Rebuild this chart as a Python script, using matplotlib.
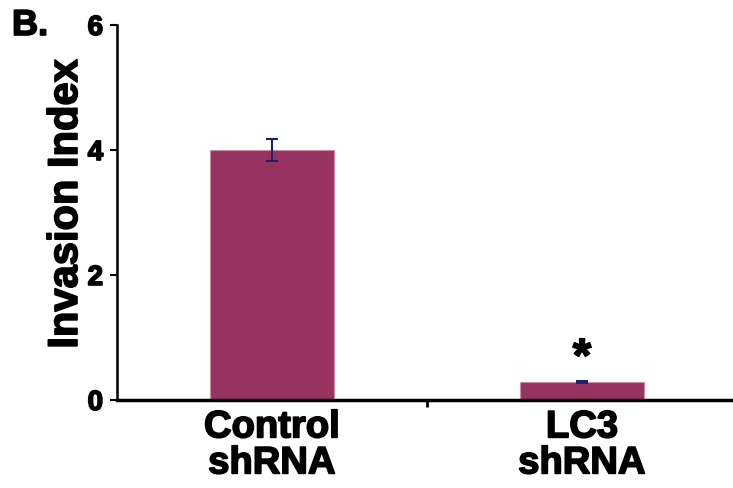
import numpy as np
import matplotlib
matplotlib.use('Agg')
from matplotlib import pyplot as plt
import matplotlib.patheffects as pe

groups = ['Control\nshRNA', 'LC3\nshRNA']
values = [4.0, 0.29]
errors = [0.18, 0.02]

plt.rcParams['font.family'] = ['Liberation Sans', 'DejaVu Sans']
plt.rcParams['font.weight'] = 'bold'

# heavier look, like the original figure font
heavy = [pe.withStroke(linewidth=1.2, foreground='black')]

fig = plt.figure(figsize=(7.33, 4.88), dpi=100)
ax = fig.add_axes([117/733, 88/488, 620/733, 375/488])

x = np.arange(len(groups))
ax.bar(x, values, width=0.4, color='#963360', edgecolor='#d48aab', linewidth=0.8, zorder=2)
ax.errorbar(x, values, yerr=errors, fmt='none', ecolor='#1c2470', elinewidth=1.5,
            capsize=4, capthick=1.5, zorder=3)
ax.text(x[1], values[1] + 0.17, '*', ha='center', va='baseline', fontsize=34,
        fontweight='bold', path_effects=heavy)

ax.set_xlim(-0.5, 1.5)
ax.set_ylim(0, 6)
ax.set_yticks([0, 2, 4, 6])
ax.set_xticks([0.5])
ax.set_xticklabels([''])
ax.tick_params(axis='x', length=5, width=2)
ax.tick_params(axis='y', labelsize=20, length=5, width=1.5, pad=5)
for lab in ax.get_yticklabels():
    lab.set_fontweight('bold')
    lab.set_path_effects(heavy)
for xi, g in zip(x, groups):
    ax.text(xi, -0.15, g, ha='center', va='top', fontsize=27.5, fontweight='bold',
            linespacing=1.0, path_effects=heavy)

ax.set_ylabel('Invasion Index', fontsize=30, fontweight='bold', path_effects=heavy)
ax.yaxis.set_label_coords(-0.05, 0.523)
ax.spines['top'].set_visible(False)
ax.spines['right'].set_visible(False)
ax.spines['left'].set_linewidth(1.8)
ax.spines['bottom'].set_linewidth(2.5)

fig.text(12/733, 1 - 35/488, 'B.', fontsize=26, fontweight='bold', ha='left',
         va='baseline', path_effects=heavy)

fig.savefig('out.png', dpi=100)
